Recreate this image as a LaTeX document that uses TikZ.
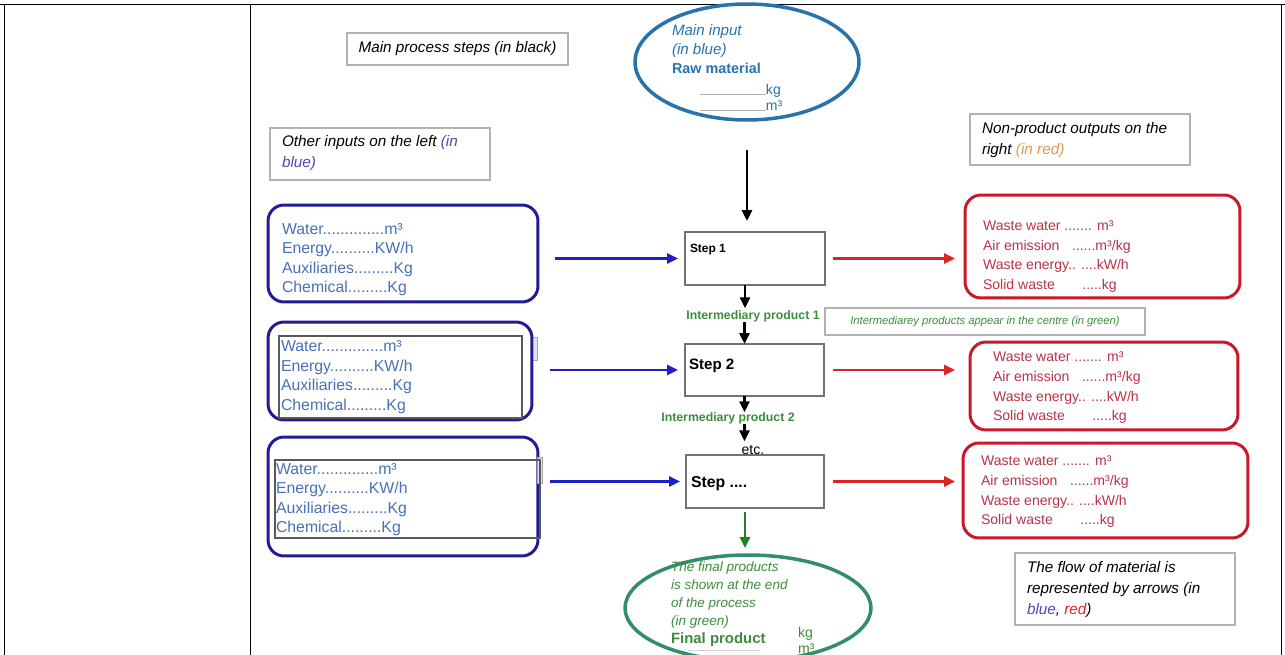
\documentclass[tikz,border=0pt]{standalone}
\usepackage{fontspec}
\setmainfont{Liberation Sans}
\usetikzlibrary{arrows.meta,shapes.geometric}

\definecolor{navyline}{rgb}{0.13,0.11,0.58}
\definecolor{inblue}{rgb}{0.28,0.44,0.72}
\definecolor{ellblue}{rgb}{0.15,0.45,0.68}
\definecolor{arrblue}{rgb}{0.12,0.12,0.78}
\definecolor{notepurple}{rgb}{0.30,0.28,0.72}
\definecolor{wred}{rgb}{0.78,0.10,0.17}
\definecolor{redtext}{rgb}{0.72,0.20,0.27}
\definecolor{arrred}{rgb}{0.86,0.14,0.14}
\definecolor{noteorange}{rgb}{0.90,0.58,0.30}
\definecolor{greentext}{rgb}{0.24,0.55,0.24}
\definecolor{ellgreen}{rgb}{0.20,0.55,0.42}
\definecolor{arrgreen}{rgb}{0.14,0.50,0.14}

\tikzset{
  framelines/.style={line width=0.5pt, black},
  notebox/.style={draw=gray!60, line width=0.7pt},
  notetext/.style={font=\fontsize{8.7}{12}\selectfont\itshape, align=left, anchor=west},
  inbox/.style={draw=navyline, line width=1.7pt, rounded corners=0.32cm},
  innerbox/.style={draw=black!65, line width=0.7pt},
  tabbox/.style={draw=black!35, fill=blue!12, line width=0.5pt},
  intext/.style={text=inblue, font=\fontsize{9}{11.1}\selectfont, align=left, anchor=west},
  outbox/.style={draw=wred, line width=1.7pt, rounded corners=0.32cm},
  outtext/.style={text=redtext, font=\fontsize{8}{11.2}\selectfont, align=left, anchor=west},
  stepbox/.style={draw=black!55, line width=0.8pt},
  steplabel/.style={anchor=west},
  midlabel/.style={text=greentext, font=\fontsize{7}{8}\selectfont\bfseries},
  flowtip/.style={-{Triangle[length=0.22cm,width=0.2cm]}, line width=1.5pt},
  blkarrow/.style={flowtip, black},
  bluarrow/.style={flowtip, arrblue},
  redarrow/.style={flowtip, arrred},
  grnarrow/.style={flowtip, arrgreen},
}

\begin{document}
\begin{tikzpicture}[x=0.02cm, y=-0.02cm,
  every node/.style={inner sep=0pt, outer sep=0pt}]
\useasboundingbox (0,0) rectangle (1285,655);

% table frame
\draw[framelines] (0,4.5) -- (1285,4.5);
\draw[framelines] (4,4.5) -- (4,655);
\draw[framelines] (250,4.5) -- (250,655);
\draw[framelines] (1281.5,4.5) -- (1281.5,655);

% legend notes
\node[notebox, minimum width=4.42cm, minimum height=0.64cm] (nmain) at (457.5,49) {};
\node[font=\fontsize{8.7}{12}\selectfont\itshape] (nmaintxt) at (457.5,49) {Main process steps (in black)};

\node[notebox, minimum width=4.4cm, minimum height=1.04cm] (nleft) at (380,154) {};
\node[notetext] (nlefttxt) at (282,153.5) {Other inputs on the left \textcolor{notepurple}{(in}\\\textcolor{notepurple}{blue)}};

\node[notebox, minimum width=4.4cm, minimum height=1.02cm] (nright) at (1080,139.5) {};
\node[notetext] (nrighttxt) at (982,140.5) {Non-product outputs on the\\right \textcolor{noteorange}{(in red)}};

\node[notebox, minimum width=6.4cm, minimum height=0.54cm,
      text=greentext, font=\fontsize{6.4}{8}\selectfont\itshape] (nmid) at (985,321.5)
      {Intermediarey products appear in the centre (in green)};

\node[notebox, minimum width=4.4cm, minimum height=1.44cm] (nflow) at (1125,589) {};
\node[notetext, font=\fontsize{8.7}{11.7}\selectfont\itshape] (nflowtxt) at (1027,589.5)
  {The flow of material is\\represented by arrows (in\\\textcolor{notepurple}{blue}, \textcolor{arrred}{red})};

% main input
\node[ellipse, draw=ellblue, line width=2pt, minimum width=4.48cm, minimum height=2.32cm] (top) at (747,62) {};
\node[anchor=west, align=left, text=ellblue, font=\fontsize{8.6}{10.8}\selectfont] (toptxt) at (672,49)
  {\textit{Main input}\\\textit{(in blue)}\\\textbf{\fontsize{8.2}{10.8}\selectfont Raw material}};
\node[anchor=base west, text=ellblue, font=\fontsize{8}{9}\selectfont] (topkg) at (700,95)
  {\textcolor{gray!60}{\rule{1.32cm}{0.4pt}}kg};
\node[anchor=base west, text=ellblue, font=\fontsize{8}{9}\selectfont] (topm) at (700,111)
  {\textcolor{gray!60}{\rule{1.32cm}{0.4pt}}m³};

% process steps
\node[stepbox, minimum width=2.8cm, minimum height=1.06cm] (s1) at (755,258.5) {};
\node[steplabel, font=\fontsize{6.8}{8}\selectfont\bfseries] (s1txt) at (690,250) {Step 1};
\node[stepbox, minimum width=2.78cm, minimum height=1.04cm] (s2) at (754.5,370) {};
\node[steplabel, font=\fontsize{8.6}{10}\selectfont\bfseries] (s2txt) at (689,366) {Step 2};
\node[stepbox, minimum width=2.76cm, minimum height=1.06cm] (s3) at (755,481.5) {};
\node[steplabel, font=\fontsize{9}{10}\selectfont\bfseries] (s3txt) at (691,484) {Step ....};

\node[midlabel] (ip1) at (753,316) {Intermediary product 1};
\node[midlabel] (ip2) at (728,418) {Intermediary product 2};
\node[font=\fontsize{8}{9}\selectfont] (etc) at (753,450) {etc.};

% final product
\node[ellipse, draw=ellgreen, line width=2pt, minimum width=4.92cm, minimum height=2.12cm] (bot) at (748,608) {};
\node[anchor=west, align=left, text=greentext, font=\fontsize{7.7}{10.2}\selectfont\itshape] (bottxt) at (671,604)
  {The final products\\is shown at the end\\of the process\\(in green)\\\textup{\textbf{\fontsize{8.5}{10.2}\selectfont Final product}}};
\node[anchor=west, align=left, text=greentext, font=\fontsize{8}{9.2}\selectfont] (botunits) at (798,640) {kg\\m³};
\draw[gray!35, line width=0.4pt] (688,650) -- (760,650);

% other inputs
\node[inbox, minimum width=5.4cm, minimum height=1.94cm] (in1) at (403,253.5) {};
\node[intext] (in1txt) at (282,259.5)
  {Water..............m³\\Energy..........KW/h\\Auxiliaries.........Kg\\Chemical.........Kg};

\node[inbox, minimum width=5.28cm, minimum height=1.96cm] (in2) at (400,371) {};
\node[tabbox, minimum width=0.08cm, minimum height=0.46cm] (tab2) at (535,348.5) {};
\node[innerbox, minimum width=4.86cm, minimum height=1.64cm] (inner2) at (400.5,377) {};
\node[intext] (in2txt) at (281,377)
  {Water..............m³\\Energy..........KW/h\\Auxiliaries.........Kg\\Chemical.........Kg};

\node[inbox, minimum width=5.4cm, minimum height=2.38cm] (in3) at (403,496.5) {};
\node[tabbox, minimum width=0.1cm, minimum height=0.52cm] (tab3) at (539.5,470) {};
\node[innerbox, minimum width=5.3cm, minimum height=1.56cm] (inner3) at (407.5,499) {};
\node[intext] (in3txt) at (276,499.5)
  {Water..............m³\\Energy..........KW/h\\Auxiliaries.........Kg\\Chemical.........Kg};

% non-product outputs
\node[outbox, minimum width=5.5cm, minimum height=2.06cm] (o1) at (1102.5,246.5) {};
\node[outtext] (o1txt) at (983,256.5)
  {Waste water ....... m³\\Air emission\hspace{0.25cm}......m³/kg\\Waste energy.. ....kW/h\\Solid waste\hspace{0.55cm}.....kg};
\node[outbox, minimum width=5.36cm, minimum height=1.76cm] (o2) at (1104,386) {};
\node[outtext] (o2txt) at (993,388)
  {Waste water ....... m³\\Air emission\hspace{0.25cm}......m³/kg\\Waste energy.. ....kW/h\\Solid waste\hspace{0.55cm}.....kg};
\node[outbox, minimum width=5.7cm, minimum height=1.9cm] (o3) at (1105.5,490.5) {};
\node[outtext] (o3txt) at (981,492)
  {Waste water ....... m³\\Air emission\hspace{0.25cm}......m³/kg\\Waste energy.. ....kW/h\\Solid waste\hspace{0.55cm}.....kg};

% main flow
\draw[blkarrow, shorten <=0.6cm, shorten >=0.22cm] (top.south) -- (top.south |- s1.north);
\draw[blkarrow, shorten >=0.04cm] ([xshift=-0.2cm]s1.south) -- ([xshift=-0.2cm]s1.south |- ip1.north);
\draw[blkarrow] ([xshift=-0.2cm]s2.north |- ip1.south) -- ([xshift=-0.2cm]s2.north);
\draw[blkarrow] ([xshift=-0.2cm]s2.south) -- ([xshift=-0.2cm]s2.south |- ip2.north);
\draw[blkarrow, shorten >=0.08cm] ([xshift=-0.2cm]s2.south |- ip2.south) -- ([xshift=-0.2cm]s2.south |- etc.north);
\draw[grnarrow, shorten <=0.08cm, shorten >=0.14cm] ([xshift=-0.2cm]s3.south) -- ([xshift=-0.2cm]s3.south |- bot.north);

% inputs into the steps
\draw[bluarrow, shorten <=0.34cm, shorten >=0.14cm] (in1.east |- s1.west) -- (s1.west);
\draw[bluarrow, shorten <=0.36cm, shorten >=0.14cm] (in2.east |- s2.west) -- (s2.west);
\draw[bluarrow, shorten <=0.24cm, shorten >=0.12cm] (in3.east |- s3.west) -- (s3.west);

% outputs from the steps
\draw[redarrow, shorten <=0.16cm, shorten >=0.2cm] (s1.east) -- (o1.west |- s1.east);
\draw[redarrow, shorten <=0.18cm, shorten >=0.3cm] (s2.east) -- (o2.west |- s2.east);
\draw[redarrow, shorten <=0.18cm, shorten >=0.16cm] (s3.east) -- (o3.west |- s3.east);
\end{tikzpicture}
\end{document}
